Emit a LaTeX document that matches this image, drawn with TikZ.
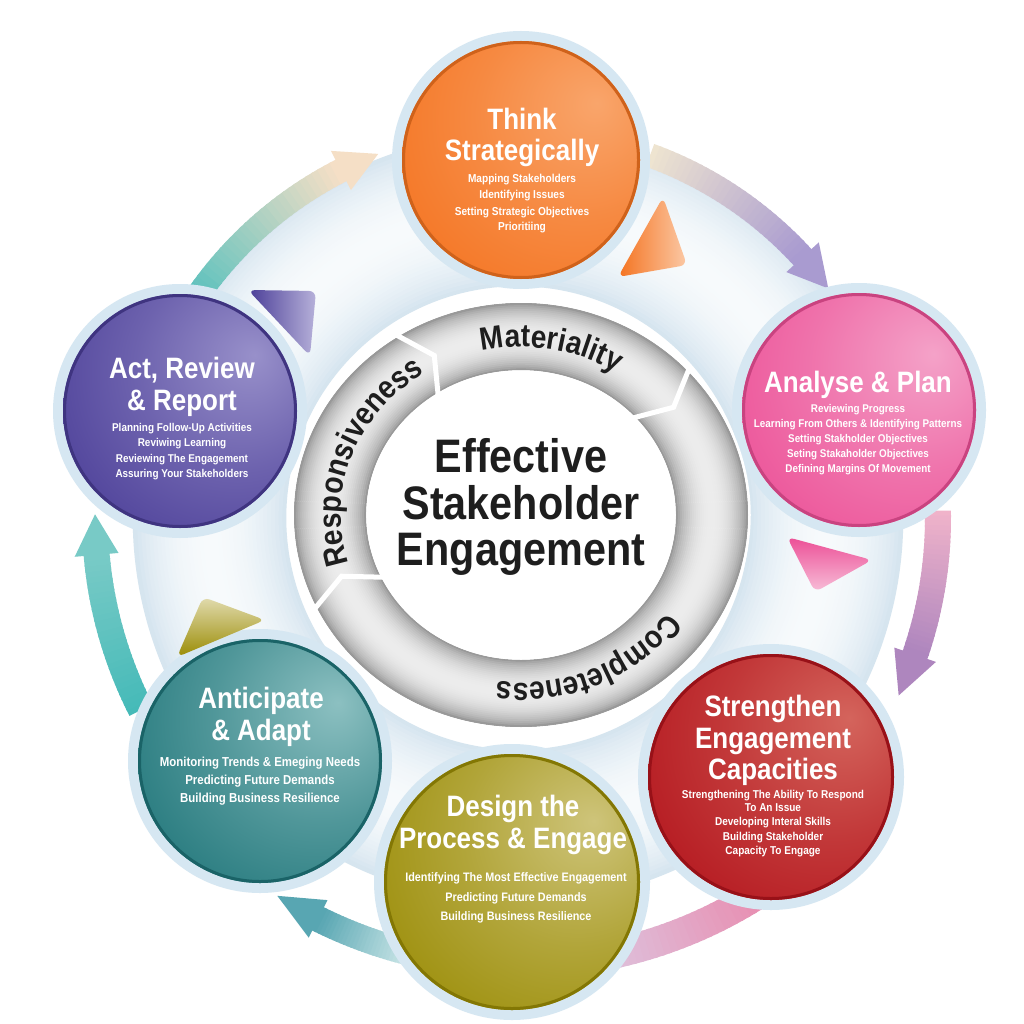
\documentclass[tikz,border=0pt]{standalone}
\usepackage{fontspec}
\setmainfont{Liberation Sans}[FakeStretch=0.88]
\usetikzlibrary{decorations.text,calc}

\definecolor{bandedge}{HTML}{D3E3EE}
\definecolor{bandmid}{HTML}{F7FAFC}
\definecolor{ringedge}{HTML}{8A8A8A}
\definecolor{ringmid}{HTML}{EDEDED}
\definecolor{ringblue}{HTML}{D6E7F2}
\definecolor{ringtxt}{HTML}{1E1E1E}
\definecolor{orB}{HTML}{F47320}\definecolor{orH}{HTML}{F9A56B}
\definecolor{piB}{HTML}{EC4F96}\definecolor{piH}{HTML}{F4A2C8}
\definecolor{reB}{HTML}{B3141C}\definecolor{reH}{HTML}{D4645C}
\definecolor{olB}{HTML}{9A8C05}\definecolor{olH}{HTML}{CEC47A}
\definecolor{teB}{HTML}{1F7579}\definecolor{teH}{HTML}{8CC0C1}
\definecolor{puB}{HTML}{4A3D97}\definecolor{puH}{HTML}{9890CA}
\definecolor{aOnes}{HTML}{55C0BD}\definecolor{aOnee}{HTML}{F5DFC6}
\definecolor{aTwos}{HTML}{EEE4D0}\definecolor{aTwoe}{HTML}{A99BD0}
\definecolor{aThrs}{HTML}{F0B3CA}\definecolor{aThre}{HTML}{AE86BE}
\definecolor{aFous}{HTML}{E88DB0}\definecolor{aFoue}{HTML}{DCCDE6}
\definecolor{aFivs}{HTML}{DDF0F0}\definecolor{aFive}{HTML}{58A6B2}
\definecolor{aSixs}{HTML}{45BAB8}\definecolor{aSixe}{HTML}{78CAC6}

\colorlet{glosshi}{white}\colorlet{glossbase}{black}
\pgfdeclareradialshading[glosshi,glossbase]{gloss}{\pgfqpoint{16bp}{12bp}}{%
  color(0bp)=(glosshi);color(22bp)=(glosshi!45!glossbase);color(44bp)=(glossbase);color(100bp)=(glossbase)}

% name, x, y, r, base, highlight
\newcommand\bubble[6]{%
  \colorlet{glossbase}{#5}\colorlet{glosshi}{#6}%
  \fill[ringblue] (#2,-#3) circle[radius=#4+10];
  \shade[shading=gloss] (#2,-#3) circle[radius=#4];
  \draw[#5!85!black, line width=3] (#2,-#3) circle[radius=#4-1.5];
  \coordinate (#1) at (#2,-#3);
}
% radius, a1, a2, width, c1, c2, tip angle, head half width (0 = none)
\newcommand\carrow[8]{%
  \foreach \k in {0,...,29}{
    \pgfmathsetmacro\aa{#2+(#3-#2)*\k/30}
    \pgfmathsetmacro\ab{#2+(#3-#2)*(\k+1.4)/30}
    \pgfmathtruncatemacro\pc{100-100*\k/29}
    \draw[line width=#4, color=#5!\pc!#6] ([shift={(\aa:#1)}]O) arc[start angle=\aa, end angle=\ab, radius=#1];
  }
  \ifdim #8pt>0pt
  \fill[#6] ([shift={(#3:#1-#8)}]O) -- ([shift={(#7:#1)}]O) -- ([shift={(#3:#1+#8)}]O) -- cycle;
  \fi
}

\tikzset{
  head/.style={text=white, font=\bfseries\fontsize{29.5}{29.5}\selectfont, anchor=base, inner sep=0pt},
  small/.style={text=white, font=\bfseries\fontsize{#1}{#1}\selectfont, anchor=base, inner sep=0pt},
  ctext/.style={text=ringtxt, font=\bfseries\fontsize{47}{47}\selectfont, anchor=base, inner sep=0pt},
  ringlabel/.style={decorate, decoration={text along path, text align=center, text color=ringtxt,
     text={|\bfseries\fontsize{32}{32}\selectfont|#1}}},
}

\begin{document}
\begin{tikzpicture}[x=1pt,y=1pt]
\useasboundingbox (0,0) rectangle (1024,-1024);
\fill[white] (0,0) rectangle (1024,-1024);
\coordinate (O) at (518,-518);
\coordinate (C) at (521,-515);

% pale band
\foreach \k in {0,...,39}{
  \pgfmathsetmacro\rr{232+153*(\k+0.5)/40}
  \pgfmathtruncatemacro\pp{100*(sin(180*(\k+0.5)/40))^0.8}
  \draw[line width=4.4, color=bandmid!\pp!bandedge] (O) circle[radius=\rr];
}

% outer curved arrows
\carrow{390}{147}{117}{24}{aOnes}{aOnee}{111}{22}
\carrow{386}{70}{42.5}{24}{aTwos}{aTwoe}{36.5}{22}
\carrow{420}{1}{-19}{26}{aThrs}{aThre}{-25}{22}
\carrow{446}{-57}{-84}{30}{aFous}{aFoue}{0}{0}
\carrow{448}{-102}{-116.5}{26}{aFivs}{aFive}{-122.5}{21}
\carrow{423}{207}{185}{26}{aSixs}{aSixe}{179.5}{22}

% bubbles
\bubble{think}{521}{160}{119}{orB}{orH}
\bubble{analyse}{859}{410}{117}{piB}{piH}
\bubble{strength}{771}{777}{123}{reB}{reH}
\bubble{design}{512}{882}{128}{olB}{olH}
\bubble{antic}{260}{761}{122}{teB}{teH}
\bubble{act}{180}{411}{117}{puB}{puH}

% triangles
\shade[left color=orB, right color=orH!60!white, rounded corners=7] (663,-197) -- (687,-265) -- (618,-277) -- cycle;
\shade[top color=piB, bottom color=piH!70!white, rounded corners=7] (787,-537) -- (872,-560) -- (815,-592) -- cycle;
\shade[top color=olH!60!white, bottom color=olB, rounded corners=7] (203,-597) -- (265,-620) -- (177,-657) -- cycle;
\shade[left color=puB, right color=puH!70!white, rounded corners=7] (248,-290) -- (316,-291) -- (310,-356) -- cycle;

% grey ring
\foreach \k in {0,...,35}{
  \pgfmathsetmacro\t{(\k+0.5)/36}
  \pgfmathsetmacro\rx{155+72*\t}
  \pgfmathsetmacro\ry{145+67*\t}
  \pgfmathtruncatemacro\pp{100*(sin(180*\t))^0.6}
  \draw[line width=2.4, color=ringmid!\pp!ringedge] (C) ellipse[x radius=\rx, y radius=\ry];
}
\draw[white, line width=2.5] (C) ellipse[x radius=228.5, y radius=213.5];
\draw[white, line width=2.5] (C) ellipse[x radius=153.5, y radius=143.5];
\foreach \a/\b in {123/117, 43/37, 206/200}{
  \draw[white, line width=5, line join=miter]
    ([shift={(\a:230 and 215)}]C) -- ([shift={(\b:191 and 179)}]C) -- ([shift={(\a:152 and 142)}]C);
}
\path[ringlabel=Materiality] ([shift={(130:180 and 168)}]C) arc[start angle=130, end angle=30, x radius=180, y radius=168];
\path[ringlabel=Responsiveness] ([shift={(215:180 and 168)}]C) arc[start angle=215, end angle=105, x radius=180, y radius=168];
\path[ringlabel=Completeness] ([shift={(-15:180 and 168)}]C) arc[start angle=-15, end angle=-117, x radius=180, y radius=168];

% centre text
\node[ctext] (c1) at (521,-472) {Effective};
\node[ctext] (c2) at (521,-519) {Stakeholder};
\node[ctext] (c3) at (521,-565) {Engagement};

% Think Strategically
\node[head] (t1) at (522,-130) {Think};
\node[head] (t2) at (522,-161) {Strategically};
\node[small=11.5] (t3) at (522,-183) {Mapping Stakeholders};
\node[small=11.5] (t4) at (522,-199) {Identifying Issues};
\node[small=11.5] (t5) at (522,-215) {Setting Strategic Objectives};
\node[small=11.5] (t6) at (522,-231) {Prioritiing};

% Analyse & Plan
\node[head] (p1) at (858,-392) {Analyse \& Plan};
\node[small=11.2] (p2) at (858,-412) {Reviewing Progress};
\node[small=11.2] (p3) at (858,-427) {Learning From Others \& Identifying Patterns};
\node[small=11.2] (p4) at (858,-442) {Setting Stakholder Objectives};
\node[small=11.2] (p5) at (858,-457) {Seting Stakaholder Objectives};
\node[small=11.2] (p6) at (858,-472) {Defining Margins Of Movement};

% Act, Review & Report
\node[head] (r1) at (182,-378) {Act, Review};
\node[head] (r2) at (182,-410) {\& Report};
\node[small=11.3] (r3) at (182,-431) {Planning Follow-Up Activities};
\node[small=11.3] (r4) at (182,-446) {Reviwing Learning};
\node[small=11.3] (r5) at (182,-462) {Reviewing The Engagement};
\node[small=11.3] (r6) at (182,-477) {Assuring Your Stakeholders};

% Strengthen Engagement Capacities
\node[head] (s1) at (773,-716) {Strengthen};
\node[head] (s2) at (773,-748) {Engagement};
\node[head] (s3) at (773,-779) {Capacities};
\node[small=11.4] (s4) at (773,-798) {Strengthening The Ability To Respond};
\node[small=11.4] (s5) at (773,-811) {To An Issue};
\node[small=11.4] (s6) at (773,-825) {Developing Interal Skills};
\node[small=11.4] (s7) at (773,-840) {Building Stakeholder};
\node[small=11.4] (s8) at (773,-854) {Capacity To Engage};

% Design the Process & Engage
\node[head] (d1) at (513,-816) {Design the};
\node[head] (d2) at (513,-848) {Process \& Engage};
\node[small=12.3] (d3) at (516,-881) {Identifying The Most Effective Engagement};
\node[small=12.3] (d4) at (516,-901) {Predicting Future Demands};
\node[small=12.3] (d5) at (516,-920) {Building Business Resilience};

% Anticipate & Adapt
\node[head] (a1) at (261,-708) {Anticipate};
\node[head] (a2) at (261,-740) {\& Adapt};
\node[small=13] (a3) at (260,-766) {Monitoring Trends \& Emeging Needs};
\node[small=13] (a4) at (260,-784) {Predicting Future Demands};
\node[small=13] (a5) at (260,-802) {Building Business Resilience};
\end{tikzpicture}
\end{document}
